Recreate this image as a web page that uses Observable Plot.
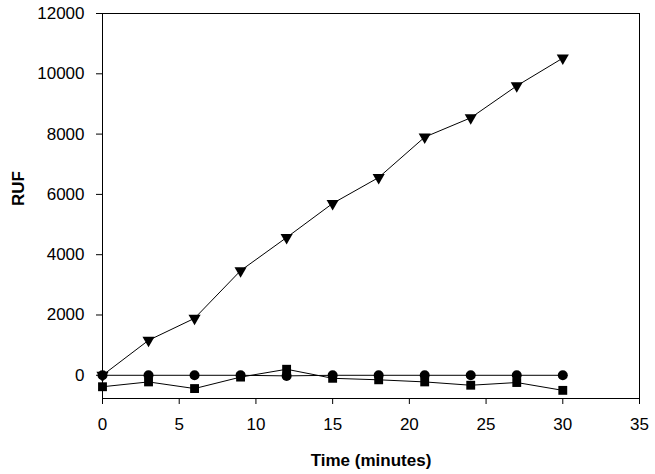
<!DOCTYPE html>
<html>
<head>
<meta charset="utf-8">
<script src="https://cdn.jsdelivr.net/npm/d3@7"></script>
<script src="https://cdn.jsdelivr.net/npm/@observablehq/plot@0.6"></script>
<style>
  html, body { margin: 0; padding: 0; background: #fff; }
</style>
</head>
<body>
<div id="chart"></div>
<script>
const times = [0, 3, 6, 9, 12, 15, 18, 21, 24, 27, 30];
const triangleSeries = [0, 1160, 1890, 3470, 4570, 5700, 6560, 7900, 8540, 9600, 10520];
const circleSeries = [0, 0, 0, 0, -20, 0, 0, 0, 0, 0, 0];
const squareSeries = [-380, -220, -440, -60, 200, -100, -150, -220, -330, -240, -500];
const xTicks = [0, 5, 10, 15, 20, 25, 30, 35];
const yTicks = [0, 2000, 4000, 6000, 8000, 10000, 12000];

const tri = times.map((t, i) => ({t, v: triangleSeries[i]}));
const cir = times.map((t, i) => ({t, v: circleSeries[i]}));
const sq = times.map((t, i) => ({t, v: squareSeries[i]}));

const chart = Plot.plot({
  width: 655,
  height: 474,
  marginLeft: 102,
  marginRight: 16,
  marginTop: 13,
  marginBottom: 76,
  style: {fontFamily: "'Liberation Sans', Arial, sans-serif", fontSize: "17px", color: "#000", background: "#fff"},
  x: {domain: [0, 35], label: null},
  y: {domain: [-770, 12000], label: null},
  marks: [
    Plot.frame({stroke: "#000", strokeWidth: 1}),
    Plot.axisX({ticks: xTicks, tickSize: 6, tickPadding: 13, fontSize: 17, stroke: "#000"}),
    Plot.axisY({ticks: yTicks, tickSize: 6, tickPadding: 12, fontSize: 17, tickFormat: d => String(d), stroke: "#000"}),
    Plot.line(cir, {x: "t", y: "v", stroke: "#000", strokeWidth: 1}),
    Plot.line(sq, {x: "t", y: "v", stroke: "#000", strokeWidth: 1}),
    Plot.line(tri, {x: "t", y: "v", stroke: "#000", strokeWidth: 1}),
    Plot.dot(cir, {x: "t", y: "v", r: 5, fill: "#000", stroke: null, symbol: "circle"}),
    Plot.dot(sq, {x: "t", y: "v", r: 5, fill: "#000", stroke: null, symbol: "square"}),
    Plot.dot(tri, {x: "t", y: "v", r: 4.5, fill: "#000", stroke: null, symbol: "triangle", rotate: 180}),
    Plot.text(["Time (minutes)"], {frameAnchor: "bottom", dy: 67, fontWeight: "bold", fontSize: 17, fill: "#000"}),
    Plot.text(["RUF"], {frameAnchor: "left", dx: -84, rotate: -90, fontWeight: "bold", fontSize: 17, fill: "#000"})
  ]
});
document.getElementById("chart").appendChild(chart);
</script>
</body>
</html>
